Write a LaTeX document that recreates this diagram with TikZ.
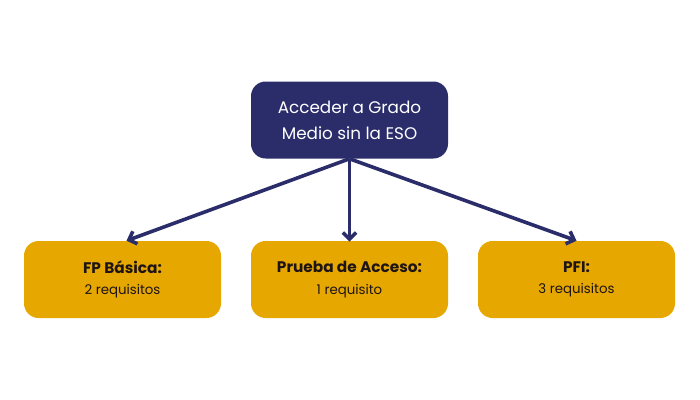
\documentclass[tikz,border=0pt]{standalone}
\usepackage{fontspec}
\setmainfont{Poppins}
\usepackage{tikz}
\usetikzlibrary{arrows.meta}
\definecolor{navyBox}{RGB}{43,45,107}
\definecolor{goldBox}{RGB}{230,168,0}
\definecolor{darkText}{RGB}{30,20,20}

\begin{document}
\begin{tikzpicture}[x=0.75pt,y=0.75pt,yscale=-1,xscale=1,
  topbox/.style={fill=navyBox,rounded corners=11pt,minimum width=147.75pt,minimum height=57.75pt,inner sep=0.75pt,align=center,text=white,font=\fontsize{12.6}{19.5}\selectfont},
  reqbox/.style={fill=goldBox,rounded corners=11pt,minimum width=147.75pt,minimum height=57.75pt,inner sep=0.75pt,align=center,text=darkText},
  flecha/.style={navyBox,line width=2.7pt,-{Straight Barb[length=5pt,width=10pt]}}]
%set diagram at 700 x 400
\path [use as bounding box] (0,0) rectangle (700,400);

%Top box
\node [topbox] (acceder) at (349.5,120) {Acceder a Grado\\Medio sin la ESO};

%Requirement boxes
\node [reqbox] (fpb) at (122.5,279.5) {{\fontsize{11.5}{14}\selectfont\bfseries FP Básica:}\\[4pt]{\fontsize{10}{12}\selectfont\mdseries 2 requisitos}};
\node [reqbox] (prueba) at (349.5,279.5) {{\fontsize{11.5}{14}\selectfont\bfseries Prueba de Acceso:}\\[4pt]{\fontsize{10}{12}\selectfont\mdseries 1 requisito}};
\node [reqbox] (pfi) at (576.5,279.5) {{\fontsize{11.5}{14}\selectfont\bfseries PFI:}\\[4pt]{\fontsize{10}{12}\selectfont\mdseries 3 requisitos}};

%Arrows
\coordinate (salida) at (acceder.south);
\draw [flecha] (salida) -- ([xshift=3pt]fpb.north);
\draw [flecha] (salida) -- ([yshift=0.75pt]prueba.north);
\draw [flecha] (salida) -- (pfi.north);

\end{tikzpicture}
\end{document}
